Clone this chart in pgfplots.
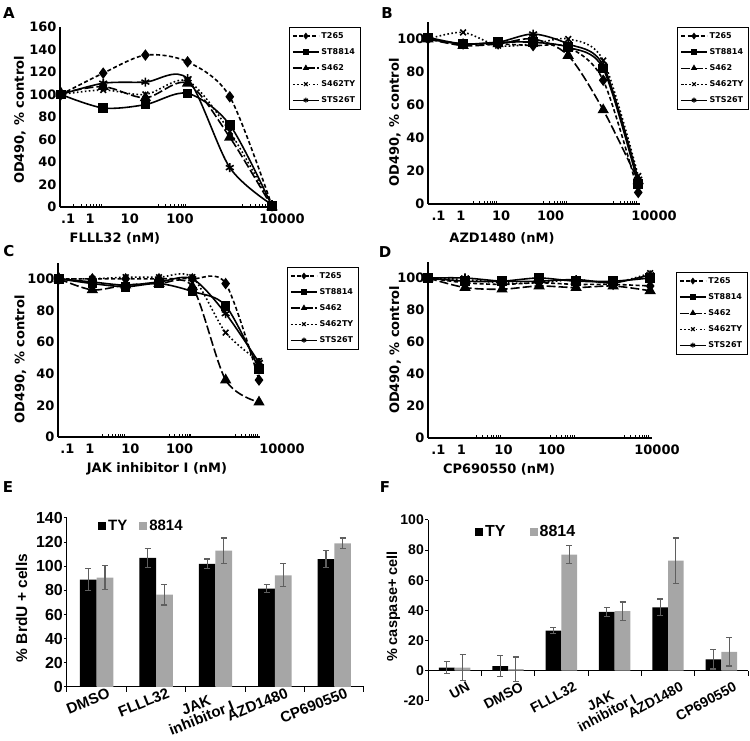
\documentclass[border=0pt]{standalone}
\usepackage{fontspec}
\setmainfont{DejaVu Sans}
\newfontfamily\arialb{Liberation Sans}
\usepackage{pgfplots}
\usepackage{pgfplotstable}
\pgfplotsset{compat=1.18}
\definecolor{barGray}{RGB}{166,166,166}
\definecolor{errGray}{RGB}{95,95,95}
\newcommand\txtfont{\bfseries\fontsize{13}{15}\selectfont}

% viability curves, x = dose step
\pgfplotstableread{
x T265 ST8814 S462 S462TY STS26T
0 100 100 101 100 100
1 119 88 107 104 110
2 135 91 97 100 111
3 129 101 110 112 114
4 98 73 62 67 35
5 1 1 0 1 2
}\dataA
\pgfplotstableread{
x T265 ST8814 S462 S462TY STS26T
0 100 101 100 100 100
1 97 97 96 104 97
2 97 98 97 96 98
3 96 98 100 97 103
4 95 95 90 100 97
5 75 82 57 87 84
6 7 12 14 17 15
}\dataB
\pgfplotstableread{
x T265 ST8814 S462 S462TY STS26T
0 100 100 100 100 100
1 100 97 93 100 98
2 100 95 96 101 96
3 100 97 97 101 98
4 100 92 95 101 100
5 97 83 36 66 78
6 36 43 22 48 47
}\dataC
\pgfplotstableread{
x T265 ST8814 S462 S462TY STS26T
0 100 100 100 100 100
1 97 98 94 99 100
2 96 98 93 97 98
3 97 100 95 97 98
4 96 98 94 99 99
5 96 98 95 97 97
6 95 100 92 103 102
}\dataD

\pgfplotsset{
  curveaxis/.style={
    scale only axis, clip=false, anchor=south west,
    axis x line*=bottom, axis y line*=left,
    axis line style={line width=1.8pt,-},
    /pgf/number format/assume math mode=true,
    tick label style={font=\txtfont}, label style={font=\txtfont},
    ytick style={draw=none}, major x tick style={draw=none},
    minor x tick style={black,line width=0.8pt}, minor tick length=3pt, tick align=inside,
    xticklabel style={yshift=-3pt},
    ylabel={OD490, \% control},
    legend cell align=left,
    legend style={draw=black, line width=0.6pt, anchor=north west,
      font=\bfseries\fontsize{8}{9}\selectfont, inner xsep=3pt, inner ysep=3pt, row sep=4.6pt},
    legend image code/.code={\draw[mark repeat=2,mark phase=2,##1,mark size=2.5pt,line width=1.2pt]
      plot coordinates {(0pt,0pt) (13pt,0pt) (26pt,0pt)};},
  },
  mtA/.style={minor xtick={0.301,0.477,0.602,0.699,0.778,0.845,0.903,0.954,2.301,2.477,2.602,2.699,2.778,2.845,2.903,2.954,4.301,4.477,4.602,4.699,4.778,4.845,4.903,4.954}},
  mtB/.style={minor xtick={1.301,1.477,1.602,1.699,1.778,1.845,1.903,1.954,3.301,3.477,3.602,3.699,3.778,3.845,3.903,3.954,5.301,5.477,5.602,5.699,5.778,5.845,5.903,5.954}},
  sT/.style={black, line width=1.6pt, dash pattern=on 4pt off 2.5pt, smooth, mark=diamond*, mark size=4.5pt, mark options={solid}},
  sS/.style={black, line width=1.6pt, smooth, mark=square*, mark size=4pt},
  sA/.style={black, line width=1.6pt, dash pattern=on 9pt off 3pt, smooth, mark=triangle*, mark size=5pt, mark options={solid}},
  sX/.style={black, line width=1.6pt, dash pattern=on 1.6pt off 2.4pt, smooth, mark=x, mark size=4pt, mark options={solid}},
  sK/.style={black, line width=1.6pt, smooth, mark=asterisk, mark size=4.5pt},
  barTY/.style={fill=black, draw=none, error bars/.cd, y dir=both, y explicit,
    error bar style={errGray, line width=1.2pt},
    error mark options={errGray, line width=1.2pt, mark size=3pt, rotate=90}},
  bar8814/.style={fill=barGray, draw=none, error bars/.cd, y dir=both, y explicit,
    error bar style={errGray, line width=1.2pt},
    error mark options={errGray, line width=1.2pt, mark size=3pt, rotate=90}},
}

\newcommand\curves[1]{%
  \addplot[sT] table[x=x,y=T265]{#1}; \addlegendentry{T265}
  \addplot[sS] table[x=x,y=ST8814]{#1}; \addlegendentry{ST8814}
  \addplot[sA] table[x=x,y=S462]{#1}; \addlegendentry{S462}
  \addplot[sX] table[x=x,y=S462TY]{#1}; \addlegendentry{S462TY}
  \addplot[sK] table[x=x,y=STS26T]{#1}; \addlegendentry{STS26T}
}

\begin{document}
\begin{tikzpicture}
\useasboundingbox (0pt,0pt) rectangle (750pt,741pt);

% A
\begin{axis}[curveaxis, mtA, at={(60pt,534pt)}, width=213pt, height=180pt,
  xmin=-0.024, xmax=5.024, ymin=0, ymax=160, ytick={0,20,...,160},
  xtick={0.17,0.69,1.63,2.82,5}, xticklabels={.1,1,10,100,{\hspace*{20pt}10000}},
  xlabel={FLLL32 (nM)},
  ylabel style={at={(axis description cs:-0.188,0.483)}, anchor=center},
  xlabel style={at={(axis description cs:0.258,-0.172)}, anchor=center},
  legend style={at={(1.075,1)}}]
\curves{\dataA}
\end{axis}

% B
\begin{axis}[curveaxis, mtB, at={(428pt,537pt)}, width=212pt, height=181.5pt,
  xmin=0, xmax=6.05, ymin=0, ymax=110, ytick={0,20,...,100},
  xtick={0.3,0.94,2.09,3.5,6.05}, xticklabels={.1,1,10,100,{\hspace*{28pt}10000}},
  xlabel={AZD1480 (nM)},
  ylabel style={at={(axis description cs:-0.156,0.45)}, anchor=center},
  xlabel style={at={(axis description cs:0.349,-0.187)}, anchor=center},
  legend style={at={(1.175,0.975)}}]
\curves{\dataB}
\end{axis}

% C
\begin{axis}[curveaxis, mtB, at={(58pt,304pt)}, width=202pt, height=174pt,
  xmin=-0.03, xmax=6.03, ymin=0, ymax=110, ytick={0,20,...,100},
  xtick={0.25,0.93,2.14,3.62,6.03}, xticklabels={.1,1,10,100,{\hspace*{44pt}10000}},
  xlabel={JAK inhibitor I (nM)},
  ylabel style={at={(axis description cs:-0.186,0.446)}, anchor=center},
  xlabel style={at={(axis description cs:0.49,-0.183)}, anchor=center},
  legend style={at={(1.134,0.977)}}]
\curves{\dataC}
\end{axis}

% D
\begin{axis}[curveaxis, mtB, at={(428pt,303pt)}, width=224pt, height=176pt,
  xmin=0, xmax=6.05, ymin=0, ymax=110, ytick={0,20,...,100},
  xtick={0.28,0.9,2.04,3.34,6.05}, xticklabels={.1,1,10,100,{\hspace*{10pt}10000}},
  xlabel={CP690550 (nM)},
  ylabel style={at={(axis description cs:-0.147,0.5)}, anchor=center},
  xlabel style={at={(axis description cs:0.317,-0.176)}, anchor=center},
  legend style={at={(1.107,0.943)}}]
\curves{\dataD}
\end{axis}

% E
\begin{axis}[scale only axis, anchor=south west, at={(67pt,54pt)}, width=297pt, height=169pt,
  ybar=0pt, bar width=16.7pt,
  xmin=-0.5, xmax=4.5, ymin=0, ymax=140, ytick={0,20,...,140},
  axis x line*=bottom, axis y line*=left, axis line style={line width=1pt,-},
  /pgf/number format/assume math mode=true,
  yticklabel style={font=\arialb\bfseries\fontsize{16}{18}\selectfont, inner sep=1pt},
  xtick={0,...,4}, xticklabels={DMSO,FLLL32,{JAK\\inhibitor I},AZD1480,CP690550},
  xticklabel style={font=\arialb\bfseries\fontsize{15}{14}\selectfont, rotate=22, anchor=north east, align=center, xshift=14pt, yshift=2pt},
  major x tick style={draw=none}, minor xtick={-0.5,0.5,...,4.5},
  minor x tick style={black,line width=1pt}, minor tick length=5pt,
  ytick style={black,line width=1pt}, major tick length=3pt, tick align=outside,
  ylabel={\% BrdU + cells},
  ylabel style={font=\arialb\bfseries\fontsize{15.5}{17}\selectfont, at={(axis description cs:-0.153,0.467)}, anchor=center},
  legend style={draw=none, fill=none, at={(0.094,0.953)}, anchor=west, legend columns=2,
    font=\arialb\bfseries\fontsize{15}{17}\selectfont, /tikz/every even column/.append style={column sep=10pt}},
  legend image code/.code={\fill[#1] (0pt,-4pt) rectangle (8pt,4pt);}]
\addplot[barTY] coordinates {(0,89) +- (0,9) (1,107) +- (0,8) (2,102) +- (0,4) (3,81.5) +- (0,3.5) (4,106) +- (0,7)};
\addlegendentry{TY}
\addplot[bar8814] coordinates {(0,90.5) +- (0,10) (1,76.5) +- (0,8.5) (2,113) +- (0,10.5) (3,92.5) +- (0,9.5) (4,119) +- (0,4.5)};
\addlegendentry{8814}
\end{axis}

% F
\begin{axis}[scale only axis, anchor=south west, at={(428pt,40.3pt)}, width=320pt, height=180.7pt,
  ybar=0pt, bar width=15.7pt,
  xmin=-0.5, xmax=5.5, ymin=-20, ymax=100, ytick={-20,0,...,100},
  axis x line*=middle, axis y line*=left, axis line style={line width=1pt,-},
  /pgf/number format/assume math mode=true,
  yticklabel style={font=\arialb\bfseries\fontsize{14}{16}\selectfont, inner sep=1pt},
  xtick={0,...,5}, xticklabels={UN,DMSO,FLLL32,{JAK\\inhibitor I},AZD1480,CP690550},
  xticklabel style={font=\arialb\bfseries\fontsize{14}{14}\selectfont, rotate=28, anchor=north east, align=center, xshift=10pt, yshift=-9pt},
  major x tick style={draw=none}, minor xtick={-0.5,0.5,...,5.5},
  minor x tick style={black,line width=1pt}, minor tick length=5pt,
  ytick style={black,line width=1pt}, major tick length=3pt, tick align=outside,
  ylabel={\% caspase+ cell},
  ylabel style={font=\arialb\bfseries\fontsize{14.5}{16}\selectfont, at={(axis description cs:-0.108,0.521)}, anchor=center},
  legend style={draw=none, fill=none, at={(0.1375,0.934)}, anchor=west, legend columns=2,
    font=\arialb\bfseries\fontsize{16}{18}\selectfont, /tikz/every even column/.append style={column sep=22pt}},
  legend image code/.code={\fill[#1] (0pt,-4pt) rectangle (8pt,4pt);}]
\addplot[barTY] coordinates {(0,2) +- (0,4) (1,3) +- (0,7) (2,26.5) +- (0,2) (3,39) +- (0,3) (4,42) +- (0,5.5) (5,7.5) +- (0,6.5)};
\addlegendentry{TY}
\addplot[bar8814] coordinates {(0,2) +- (0,8.5) (1,1) +- (0,8) (2,77) +- (0,6) (3,39.5) +- (0,6) (4,73) +- (0,15) (5,12.5) +- (0,9.5)};
\addlegendentry{8814}
\end{axis}

\node[font=\bfseries\fontsize{15}{17}\selectfont] at (9pt,728pt) {A};
\node[font=\bfseries\fontsize{15}{17}\selectfont] at (387pt,728pt) {B};
\node[font=\bfseries\fontsize{15}{17}\selectfont] at (9pt,490pt) {C};
\node[font=\bfseries\fontsize{15}{17}\selectfont] at (385pt,489pt) {D};
\node[font=\bfseries\fontsize{15}{17}\selectfont] at (8pt,254pt) {E};
\node[font=\bfseries\fontsize{15}{17}\selectfont] at (385pt,254pt) {F};
\end{tikzpicture}
\end{document}
